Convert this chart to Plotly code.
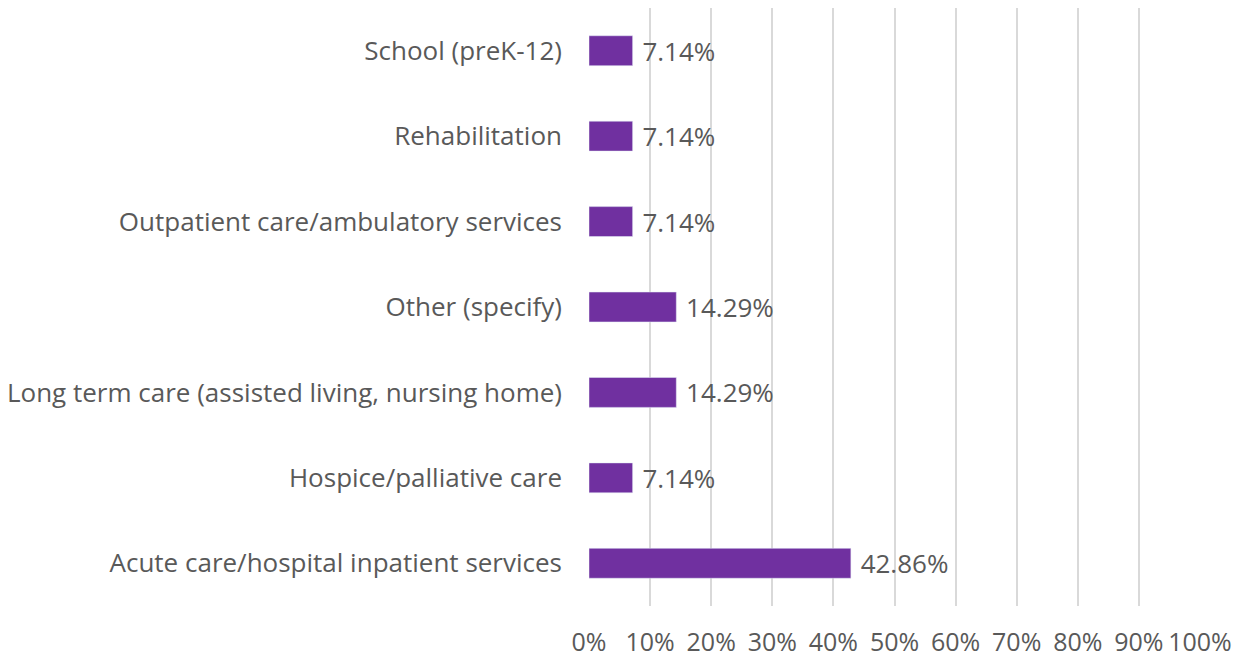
import plotly.graph_objects as go

categories = [
    "Acute care/hospital inpatient services",
    "Hospice/palliative care",
    "Long term care (assisted living, nursing home)",
    "Other (specify)",
    "Outpatient care/ambulatory services",
    "Rehabilitation",
    "School (preK-12)",
]
values = [42.86, 7.14, 14.29, 14.29, 7.14, 7.14, 7.14]
tick_vals = [0, 10, 20, 30, 40, 50, 60, 70, 80, 90, 100]
tick_text = [f"{v}%" for v in tick_vals]

text_color = "#595959"
font_family = "Open Sans, Noto Sans, sans-serif"
fsize = 26

fig = go.Figure()
fig.add_trace(go.Bar(
    y=categories,
    x=[v / 100 for v in values],
    orientation="h",
    marker=dict(color="#7030A0"),
    width=0.35,
    text=[f" {v:.2f}%" for v in values],
    textposition="outside",
    constraintext="none",
    textfont=dict(size=fsize, color=text_color, family=font_family),
    cliponaxis=False,
    showlegend=False,
))

# page body adds an 8px offset, margins are set so the plot area lands where the reference has it
fig.update_layout(
    width=1238, height=652,
    margin=dict(l=581, r=46, t=0, b=54),
    plot_bgcolor="white", paper_bgcolor="white",
    font=dict(family=font_family, size=fsize, color=text_color),
    xaxis=dict(
        range=[0, 1],
        tickvals=[v / 100 for v in tick_vals],
        ticktext=tick_text,
        showgrid=True, gridcolor="#d9d9d9", gridwidth=1.5,
        zeroline=False, showline=False,
        ticklabelstandoff=19,
        tickfont=dict(size=25, color=text_color),
        automargin=False,
    ),
    yaxis=dict(
        showgrid=False, zeroline=False, showline=False,
        ticklabelstandoff=26,
        tickfont=dict(size=fsize, color=text_color),
        automargin=False,
    ),
)

fig.write_html("out.html")
